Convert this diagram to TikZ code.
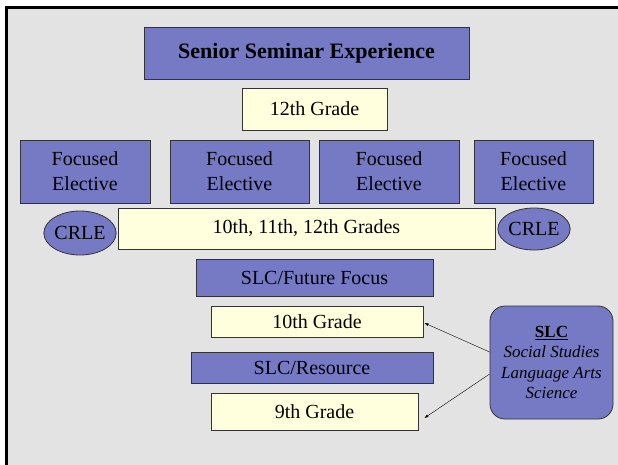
\documentclass[tikz,border=0pt]{standalone}
\usepackage{fontspec}
\setmainfont{Liberation Serif}
\usetikzlibrary{arrows.meta,shapes.geometric}
\definecolor{slidePurple}{RGB}{118,122,197}
\definecolor{slideYellow}{RGB}{255,255,221}
\definecolor{slideGray}{RGB}{227,227,227}
\begin{document}
\begin{tikzpicture}
[x=1pt,y=-1pt,%
  purpleDecorate/.style={shape=rectangle,draw=black!80,line width=0.8pt,fill=slidePurple,
    inner sep=0pt,align=center,font=\fontsize{20}{25}\selectfont},
  yellowDecorate/.style={shape=rectangle,draw=black!80,line width=0.8pt,fill=slideYellow,
    inner sep=0pt,align=center,font=\fontsize{20}{25}\selectfont},
  crleDecorate/.style={shape=ellipse,draw=black!80,line width=0.8pt,fill=slidePurple,
    inner sep=0pt,font=\fontsize{20}{25}\selectfont},
  arrowDecorate/.style={-{Latex[length=4pt,width=3pt]},line width=0.4pt}]
\useasboundingbox (0,0) rectangle (618,465);
%% slide background
\fill[white] (0,0) rectangle (618,465);
\fill[slideGray] (7,9) rectangle (618,465);
\draw[line width=3pt] (6.5,465) -- (6.5,7.5) -- (618,7.5);
%% title and top grade
\node (senior) at (306.5,53) [purpleDecorate,minimum width=325,minimum height=52,
  font=\fontsize{22}{26}\selectfont\bfseries] {Senior Seminar Experience};
%% grade boxes
\foreach \nodename/\x/\y/\w/\h/\txt in {
  grade12/314.5/109/145/42/{12th Grade},
  grades/306.5/228.5/377/41/{10th, 11th, 12th Grades},
  grade10/317/321.5/212/31/{10th Grade},
  grade9/314.5/411.5/207/37/{9th Grade}}
{
  \node (\nodename) at (\x,\y) [yellowDecorate,minimum width=\w,minimum height=\h] {\txt};
}
%% focused electives
\foreach \nodename/\x/\w in {
  fe1/85/130, fe2/239.5/139, fe3/389/140, fe4/533.5/119}
{
  \node (\nodename) at (\x,171.5) [purpleDecorate,minimum width=\w,minimum height=63] {Focused\\Elective};
}
%% slc bars
\foreach \nodename/\x/\y/\w/\h/\txt in {
  future/314.5/277.5/237/37/{SLC/Future Focus},
  resource/312/367.5/242/31/{SLC/Resource}}
{
  \node (\nodename) at (\x,\y) [purpleDecorate,minimum width=\w,minimum height=\h] {\txt};
}
%% crle ellipses
\node (crleL) at (80,233) [crleDecorate,minimum width=68,minimum height=44] {CRLE};
\node (crleR) at (534,229) [crleDecorate,minimum width=68,minimum height=42] {CRLE};
%% slc legend
\node (slc) at (551.5,362.5) [purpleDecorate,rounded corners=15pt,minimum width=123,minimum height=113,
  font=\fontsize{17}{20.5}\selectfont]
  {\textbf{\underline{SLC}}\\\textit{Social Studies}\\\textit{Language Arts}\\\textit{Science}};
%% arrows
\draw[arrowDecorate] ([yshift=10.5pt]slc.west) -- ([xshift=1pt,yshift=-1.5pt]grade10.east);
\draw[arrowDecorate] ([yshift=-11.5pt]slc.west) -- ([xshift=6pt,yshift=-6.5pt]grade9.east);
\end{tikzpicture}
\end{document}
